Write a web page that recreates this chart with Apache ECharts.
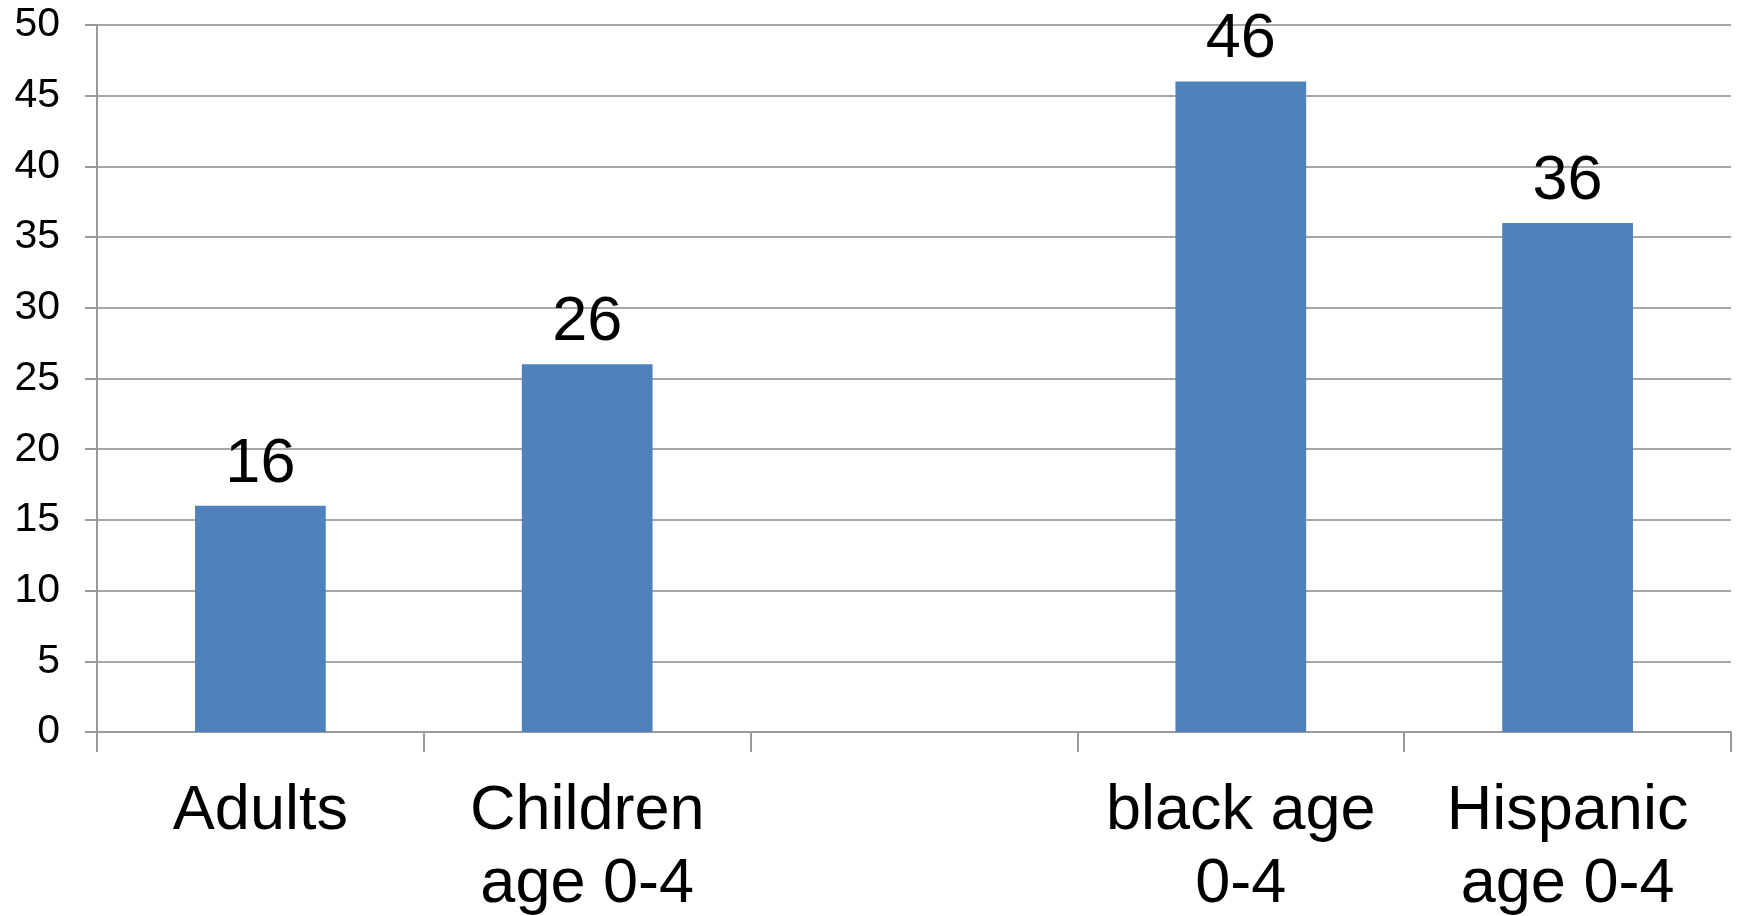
<!DOCTYPE html>
<html>
<head>
<meta charset="utf-8">
<style>
  html, body { margin: 0; padding: 0; background: #ffffff; }
  #chart { width: 1743px; height: 916px; }
</style>
<script src="https://cdn.jsdelivr.net/npm/echarts@6/dist/echarts.min.js"></script>
</head>
<body>
<div id="chart"></div>
<script>
// Groups along the horizontal axis (the third slot is left empty as a spacer)
const categories = ['Adults', 'Children\nage 0-4', '', 'black age\n0-4', 'Hispanic\nage 0-4'];
// Percent values for each group
const values = [16, 26, '-', 46, 36];
// Vertical axis range
const yMin = 0;
const yMax = 50;
const yStep = 5;

const FONT = '"Liberation Sans", Arial, sans-serif';
const GRID_GRAY = '#a6a6a6';
const AXIS_GRAY = '#9a9a9a';

const chart = echarts.init(document.getElementById('chart'), null, { renderer: 'canvas' });

chart.setOption({
  animation: false,
  backgroundColor: '#ffffff',
  grid: {
    left: 97, right: 12, top: 25, bottom: 184,
    containLabel: false,
    outerBoundsMode: 'none'
  },
  xAxis: {
    type: 'category',
    data: categories,
    axisLine: { show: true, lineStyle: { color: AXIS_GRAY, width: 2 } },
    axisTick: { show: true, length: 20, alignWithLabel: false, lineStyle: { color: AXIS_GRAY, width: 2 } },
    axisLabel: {
      color: '#000000',
      fontFamily: FONT,
      fontSize: 63,
      lineHeight: 73,
      margin: 43,
      interval: 0
    },
    splitLine: { show: false }
  },
  yAxis: {
    type: 'value',
    min: yMin,
    max: yMax,
    interval: yStep,
    axisLine: { show: true, lineStyle: { color: AXIS_GRAY, width: 2 } },
    axisTick: { show: true, length: 12, lineStyle: { color: AXIS_GRAY, width: 2 } },
    axisLabel: {
      color: '#000000',
      fontFamily: FONT,
      fontSize: 41,
      margin: 37
    },
    splitLine: { show: true, lineStyle: { color: GRID_GRAY, width: 2 } }
  },
  series: [{
    type: 'bar',
    data: values,
    barWidth: '40%',
    itemStyle: { color: '#4f81bd' },
    label: {
      show: true,
      position: 'top',
      distance: 10,
      color: '#000000',
      fontFamily: FONT,
      fontSize: 63
    }
  }]
});
</script>
</body>
</html>
